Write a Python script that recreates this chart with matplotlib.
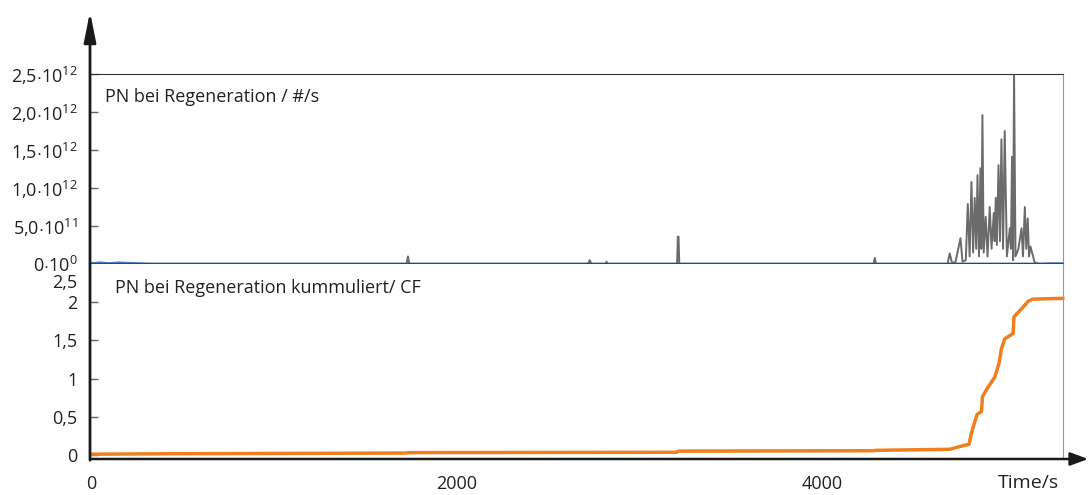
import numpy as np
import matplotlib
matplotlib.use("Agg")
import matplotlib.pyplot as plt
from matplotlib.patches import FancyArrowPatch

plt.rcParams['font.family'] = ['Open Sans', 'DejaVu Sans']
plt.rcParams['mathtext.fontset'] = 'custom'
plt.rcParams['mathtext.rm'] = 'Open Sans'
plt.rcParams['mathtext.it'] = 'Open Sans'

# top panel: PN during regeneration, #/s (values in 1e12)
pn_t = [330, 1727, 1735, 1743, 2720, 2730, 2740, 2815, 2822, 2829,
        3208, 3212, 3216, 3220, 4283, 4290, 4297, 4688, 4700, 4712,
        4731, 4759, 4770, 4788, 4799, 4809, 4819, 4828, 4837, 4845,
        4852, 4860, 4868, 4873, 4879, 4886, 4897, 4907, 4919, 4929,
        4941, 4946, 4952, 4958, 4967, 4975, 4983, 4992, 5001, 5013,
        5029, 5035, 5041, 5047, 5052, 5060, 5076, 5093, 5101, 5111,
        5119, 5127, 5134, 5142, 5165, 5193]
pn_v = [0, 0, 0.10, 0, 0, 0.05, 0, 0, 0.03, 0,
        0, 0.36, 0.36, 0, 0, 0.08, 0, 0, 0.14, 0.02,
        0.02, 0.34, 0.03, 0.05, 0.79, 0.10, 1.08, 0.15, 0.87, 0.20,
        1.17, 0.10, 1.26, 0.20, 1.96, 0.15, 0.62, 0.10, 0.75, 0.20,
        0.67, 0.30, 0.87, 0.25, 1.30, 0.30, 1.64, 0.20, 1.75, 0.10,
        0.47, 0.20, 1.41, 0.05, 2.55, 0.10, 0.20, 0.47, 0.10, 0.75,
        0.20, 0.60, 0.10, 0.23, 0.02, 0]

# blue series, stays near zero
blue_t = [0, 50, 100, 150, 200, 260, 330, 5190, 5250, 5319]
blue_v = [0.01, 0.02, 0.01, 0.02, 0.015, 0.01, 0.005, 0.005, 0.01, 0.01]

# bottom panel: cumulative PN
cum_t = [0, 400, 1725, 1735, 3205, 3215, 4283, 4293, 4700, 4755,
         4806, 4819, 4850, 4874, 4879, 4905, 4947, 4970, 4983, 5001,
         5047, 5052, 5084, 5129, 5153, 5319]
cum_v = [0.01, 0.015, 0.025, 0.03, 0.035, 0.05, 0.055, 0.06, 0.074, 0.11,
         0.14, 0.29, 0.53, 0.57, 0.76, 0.87, 1.02, 1.20, 1.39, 1.52,
         1.59, 1.81, 1.89, 2.01, 2.04, 2.05]

top_ticks = [0, 0.5, 1.0, 1.5, 2.0, 2.5]
top_labels = [r'0$\cdot$10$^{0}$', r'5,0$\cdot$10$^{11}$', r'1,0$\cdot$10$^{12}$',
              r'1,5$\cdot$10$^{12}$', r'2,0$\cdot$10$^{12}$', r'2,5$\cdot$10$^{12}$']
bot_ticks = [0, 0.5, 1, 1.5, 2]
bot_labels = ['0', '0,5', '1', '1,5', '2']
x_ticks = [0, 2000, 4000]

W, H = 1092, 495
fig = plt.figure(figsize=(W / 100, H / 100), dpi=100)

def fx(px):
    return px / W

def fy(py):
    return 1 - py / H

x0, x1 = 90, 1063
ax1 = fig.add_axes([fx(x0), fy(264), fx(x1 - x0), (264 - 74) / H])
ax2 = fig.add_axes([fx(x0), fy(458), fx(x1 - x0), (458 - 264) / H])

xlim = (-5, 5320)
txt = '#222222'
fs = 13

ax1.plot(blue_t, blue_v, color='#4a7ebb', lw=1.5)
ax1.plot(pn_t, pn_v, color='#6b6b6b', lw=1.4)
ax1.set_xlim(*xlim)
ax1.set_ylim(0, 2.5)
ax1.set_yticks(top_ticks)
ax1.set_yticklabels(top_labels)
ax1.set_xticks([])
ax1.tick_params(axis='y', direction='in', length=6, width=1, colors='#666666',
                labelcolor=txt, labelsize=fs, pad=9)
ax1.spines['top'].set_color('#333333')
ax1.spines['right'].set_color('#999999')
ax1.spines['bottom'].set_color('#444444')
ax1.spines['bottom'].set_linewidth(1.5)
ax1.spines['left'].set_visible(False)
ax1.text(0.0154, 0.879, 'PN bei Regeneration / #/s', transform=ax1.transAxes,
         fontsize=fs, color=txt, va='center')

ax2.plot(cum_t, cum_v, color='#f07f1e', lw=2.5, clip_on=False)
ax2.set_xlim(*xlim)
ax2.set_ylim(-0.04, 2.5)
ax2.set_yticks(bot_ticks)
ax2.set_yticklabels(bot_labels)
ax2.set_xticks(x_ticks)
ax2.set_xticklabels([str(v) for v in x_ticks])
ax2.tick_params(axis='y', direction='in', length=6, width=1, colors='#666666',
                labelcolor=txt, labelsize=fs, pad=9)
ax2.tick_params(axis='x', length=0, labelcolor=txt, labelsize=fs, pad=12)
ax2.spines['top'].set_visible(False)
ax2.spines['right'].set_color('#999999')
ax2.spines['left'].set_visible(False)
ax2.spines['bottom'].set_visible(False)
ax2.text(0.0257, 0.876, 'PN bei Regeneration kummuliert/ CF', transform=ax2.transAxes,
         fontsize=fs, color=txt, va='center')
ax2.annotate('2,5', xy=(0, 2.5), xycoords=('axes fraction', 'data'),
             xytext=(-9.4, -14), textcoords='offset points', ha='right', va='center',
             fontsize=fs, color=txt)

# axis arrows
fig.add_artist(FancyArrowPatch(
    (fx(90), fy(463)), (fx(90), fy(9)), transform=fig.transFigure,
    arrowstyle='-|>,head_length=1.0,head_width=0.2', mutation_scale=18,
    color='#1a1a1a', lw=2.0))
fig.add_artist(FancyArrowPatch(
    (fx(88), fy(459)), (fx(1091), fy(459)), transform=fig.transFigure,
    arrowstyle='-|>,head_length=0.6,head_width=0.22', mutation_scale=18,
    color='#1a1a1a', lw=1.8))
fig.text(fx(1028), fy(483), 'Time/s', ha='center', va='center',
         fontsize=14, color=txt)

fig.savefig('out.png', dpi=100)
